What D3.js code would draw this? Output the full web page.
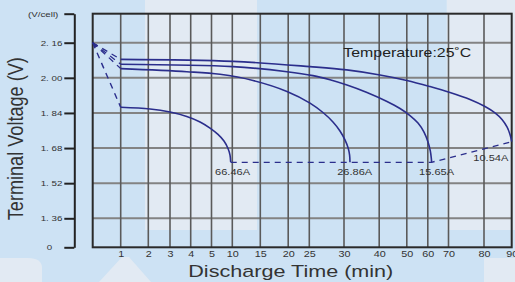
<!DOCTYPE html>
<html><head><meta charset="utf-8">
<script src="https://cdn.jsdelivr.net/npm/d3@7"></script>
<style>html,body{margin:0;padding:0;background:#cde2f4;} svg{display:block}</style>
</head><body>
<svg id="c" width="515" height="282"></svg>
<script>
// ---------- data ----------
const xTickValues = [1,2,3,4,5,10,15,20,25,30,40,50,60,70,80,90];
const yTickValues = [0,1.36,1.52,1.68,1.84,2.00,2.16];
const yTickLabels = ["0","1. 36","1. 52","1. 68","1. 84","2. 00","2. 16"];
const yUnitValue = 2.292;
const yUnitLabel = "(V/cell)";
const startPoint = [0, 2.16];

// discharge curves: [minutes, volts]
const curve66A = [[1,1.866],[2.08,1.858],[3,1.844],[3.81,1.824],[4.45,1.799],[4.93,1.771],[6.56,1.742],[8.0,1.712],[8.97,1.678],[9.45,1.648],[9.62,1.615]];
const curve26A = [[1,2.042],[3.81,2.028],[7.04,2.016],[13.7,1.988],[19.78,1.938],[25.1,1.885],[26.97,1.842],[28.41,1.799],[29.42,1.758],[30.28,1.717],[31.22,1.678],[31.59,1.648],[31.7,1.615]];
const curve15A = [[1,2.062],[10.12,2.051],[19.78,2.028],[25.53,2.010],[27.98,1.991],[30.85,1.967],[36.53,1.933],[42.83,1.892],[47.54,1.860],[51.52,1.828],[55.33,1.794],[58.19,1.753],[60.1,1.708],[61.21,1.667],[61.69,1.634],[61.84,1.615]];
const curve10A = [[1,2.084],[10.18,2.075],[25.1,2.051],[30.77,2.036],[40.29,2.013],[50,1.988],[61.06,1.960],[70.42,1.933],[76.06,1.901],[80.36,1.869],[83.97,1.840],[86.5,1.810],[88.3,1.776],[89.39,1.742],[90,1.709]];
const curveLabels = ["66.46A","26.86A","15.65A","10.54A"];
const cutoffLine = [[9.62,1.615],[61.84,1.615],[90,1.709]];
const temperatureText = "Temperature:25˚C";
const xTitle = "Discharge Time (min)";
const yTitle = "Terminal Voltage (V)";

// ---------- scales ----------
const x = d3.scaleLinear()
  .domain([0,1,2,3,4,5,10,15,20,25,30,40,50,60,70,80,90])
  .range([92.7,120.7,148.3,170,190.7,211.5,232.3,260.3,288.2,309.3,344,379.2,406.8,427.8,448.5,484,511.7]);
const y = d3.scaleLinear().domain([0,1.36,2.16,yUnitValue]).range([247.3,218.3,42.7,13.7]);

const svg = d3.select("#c");
const FONT = "'Liberation Sans', Arial, sans-serif";
const light = "#e2eaf3";
const lineCol = "#2b2e8c";

// background + watermark patches
svg.append("rect").attr("width",515).attr("height",282).attr("fill","#cde2f4");
const wm = svg.append("g").attr("fill",light);
wm.append("rect").attr("x",145).attr("y",0).attr("width",112).attr("height",230);
wm.append("rect").attr("x",446.7).attr("y",0).attr("width",68.3).attr("height",230);
wm.append("path").attr("d","M0,258 H28 Q42,258 42,268 V282 H0 Z");
wm.append("path").attr("d","M99,282 L122,257 H129 L151,282 Z");
wm.append("rect").attr("x",484).attr("y",258).attr("width",31).attr("height",24);

const [x0,x1] = [x(0), x(90)];
const [yb,yt] = [y(0), y(yUnitValue)];

// grid
const grid = svg.append("g");
grid.selectAll("line.h").data(yTickValues.filter(d=>d>0)).join("line")
  .attr("x1",x0).attr("x2",x1).attr("y1",d=>y(d)).attr("y2",d=>y(d))
  .attr("stroke","#838383").attr("stroke-width",2);
grid.selectAll("line.v").data(xTickValues.filter(d=>d<90)).join("line")
  .attr("y1",yt).attr("y2",yb).attr("x1",d=>x(d)).attr("x2",d=>x(d))
  .attr("stroke","#5a5a5a").attr("stroke-width",1.6);
svg.append("rect").attr("x",x0).attr("y",yt).attr("width",x1-x0).attr("height",yb-yt)
  .attr("fill","none").attr("stroke","#2a2a2a").attr("stroke-width",2);

// y axis (separate)
const yAxis = d3.axisLeft(y)
  .tickValues([...yTickValues, yUnitValue])
  .tickSize(10).tickSizeOuter(0)
  .tickFormat(d => d===yUnitValue ? yUnitLabel : yTickLabels[yTickValues.indexOf(d)]);
const ya = svg.append("g").attr("transform","translate(74.3,0)").call(yAxis);
ya.select(".domain").attr("stroke","#222").attr("stroke-width",2);
ya.selectAll(".tick line").attr("stroke","#222").attr("stroke-width",2);
ya.selectAll(".tick text")
  .attr("x",0).attr("fill","#333").attr("font-family",FONT).attr("font-size",8)
  .attr("transform",d => `translate(${d===0?-22:(d===yUnitValue?-16:-12)},0) scale(1.22,1)`);

// x axis labels
const xAxis = d3.axisBottom(x).tickValues(xTickValues).tickSize(0).tickPadding(3.6);
const xa = svg.append("g").attr("transform",`translate(0,${yb})`).call(xAxis);
xa.select(".domain").remove();
xa.selectAll(".tick text").attr("fill","#333").attr("font-family",FONT).attr("font-size",9)
  .attr("transform","scale(1.2,1)");

// curves
const line = d3.line().x(d=>x(d[0])).y(d=>y(d[1])).curve(d3.curveCatmullRom.alpha(0.5));
const straight = d3.line().x(d=>x(d[0])).y(d=>y(d[1]));
const curves = [curve66A, curve26A, curve15A, curve10A];
const cg = svg.append("g").attr("fill","none").attr("stroke",lineCol).attr("stroke-width",1.6);
curves.forEach(c => {
  cg.append("path").attr("d", line(c));
  cg.append("path").attr("d", straight([startPoint, c[0]])).attr("stroke-dasharray","6,5")
    .attr("stroke-width", c===curve66A?1.4:1.3);
});
cg.append("path").attr("d", straight(cutoffLine)).attr("stroke-dasharray","6,5").attr("stroke-width",1.4);

// arrow head at start
const sx = x(startPoint[0]), sy = y(startPoint[1]);
svg.append("path").attr("d",`M${sx},${sy} L${sx+1.8},${sy+5.5} L${sx+5.2},${sy+2.6} Z`).attr("fill",lineCol);

// current labels
const tg = svg.append("g").attr("font-family",FONT).attr("fill","#333").attr("font-size",9.3);
const lblAnchor = [[232.6, 175],[354.7, 175],[436.6, 175],[490.8, 160.7]];
lblAnchor.forEach((a,i) => {
  tg.append("text").attr("x",a[0]).attr("y",a[1]).attr("text-anchor","middle")
    .attr("textLength",35).attr("lengthAdjust","spacingAndGlyphs").text(curveLabels[i]);
});

// temperature
svg.append("text").attr("x",343.3).attr("y",57.3).attr("font-family",FONT).attr("font-size",12.6)
  .attr("fill","#222").attr("textLength",128).attr("lengthAdjust","spacingAndGlyphs").text(temperatureText);

// titles
svg.append("text").attr("x",188.3).attr("y",276.7).attr("font-family",FONT).attr("font-size",16.3)
  .attr("fill","#333").attr("textLength",205).attr("lengthAdjust","spacingAndGlyphs").text(xTitle);
svg.append("text").attr("transform","translate(23.3,138.7) scale(1.3,1) rotate(-90)")
  .attr("text-anchor","middle").attr("font-family",FONT).attr("font-size",16.3)
  .attr("fill","#333").attr("textLength",163).attr("lengthAdjust","spacingAndGlyphs").text(yTitle);
</script>
</body></html>
